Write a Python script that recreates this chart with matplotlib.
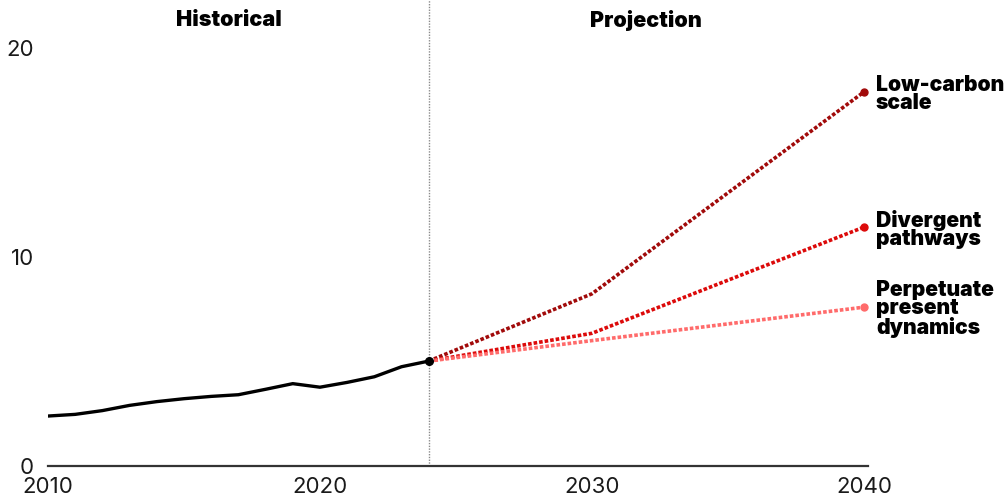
import matplotlib.pyplot as plt

# Historische reeks en projecties.
HIST_YEARS = list(range(2010, 2025))
HIST_VALUES = [2.39, 2.47, 2.65, 2.9, 3.08, 3.22, 3.33, 3.41, 3.67, 3.94,
               3.77, 4.0, 4.27, 4.75, 5.02]

PROJ_YEARS = [2024, 2030, 2040]
LOW_CARBON = [5.02, 8.24, 17.9]
DIVERGENT = [5.02, 6.35, 11.43]
PERPETUATE = [5.02, 6.0, 7.6]

SCENARIOS = [
    ("Low-carbon\nscale", LOW_CARBON, "#a10a0a"),
    ("Divergent\npathways", DIVERGENT, "#dc0a0a"),
    ("Perpetuate\npresent\ndynamics", PERPETUATE, "#ff6b6b"),
]

Y_TICKS = [0, 10, 20]
X_TICKS = [2010, 2020, 2030, 2040]

LABEL_FONT = ["Inter", "Liberation Sans", "DejaVu Sans"]
TICK_FONT = ["Inter", "DejaVu Sans"]


def main():
    fig = plt.figure(figsize=(10.08, 5.01), dpi=100)
    ax = fig.add_axes([0.0476, 0.0699, 0.8135, 0.9301])

    ax.set_xlim(2010, 2040.15)
    ax.set_ylim(0, 22.3)

    # Verticale scheidingslijn tussen historisch en projectie.
    ax.axvline(2024, color="#8a8a8a", linewidth=1, linestyle=(0, (1, 1)), zorder=1)

    # Projecties.
    for label, values, color in SCENARIOS:
        ax.plot(PROJ_YEARS, values, color=color, linewidth=2.6,
                linestyle=(0, (1, 0.55)), zorder=2)
        ax.plot(PROJ_YEARS[-1], values[-1], "o", color=color, markersize=5,
                zorder=3, clip_on=False)

    # Historische lijn.
    ax.plot(HIST_YEARS, HIST_VALUES, color="black", linewidth=2.4, zorder=4)
    ax.plot(HIST_YEARS[-1], HIST_VALUES[-1], "o", color="black", markersize=5.5, zorder=5)

    # Labels rechts van de lijnen.
    label_tops = [75, 210, 280]
    for (label, values, color), top in zip(SCENARIOS, label_tops):
        y_fig = 1 - top / 501
        fig.text(876 / 1008, y_fig, label, ha="left", va="top",
                 fontsize=15.2, fontweight=900, family=LABEL_FONT,
                 linespacing=0.9, color="black")

    # Sectietitels.
    ax.text(2016.65, 21.34, "Historical", ha="center", va="center",
            fontsize=15.5, fontweight=900, family=LABEL_FONT)
    ax.text(2032, 21.34, "Projection", ha="center", va="center",
            fontsize=15.5, fontweight=900, family=LABEL_FONT)

    # Assen.
    for side in ["top", "right", "left"]:
        ax.spines[side].set_visible(False)
    ax.spines["bottom"].set_color("#333333")
    ax.spines["bottom"].set_linewidth(1.6)

    ax.set_yticks(Y_TICKS)
    ax.set_yticklabels([str(v) for v in Y_TICKS], family=TICK_FONT,
                       fontsize=16, fontweight="normal", color="#1a1a1a")
    ax.set_xticks(X_TICKS)
    ax.set_xticklabels([str(v) for v in X_TICKS], family=TICK_FONT,
                       fontsize=16, fontweight="normal", color="#1a1a1a")
    ax.tick_params(axis="y", length=0, pad=10)
    ax.tick_params(axis="x", length=0, pad=8)

    fig.savefig("out.png", dpi=100)
    plt.close(fig)


if __name__ == "__main__":
    main()
